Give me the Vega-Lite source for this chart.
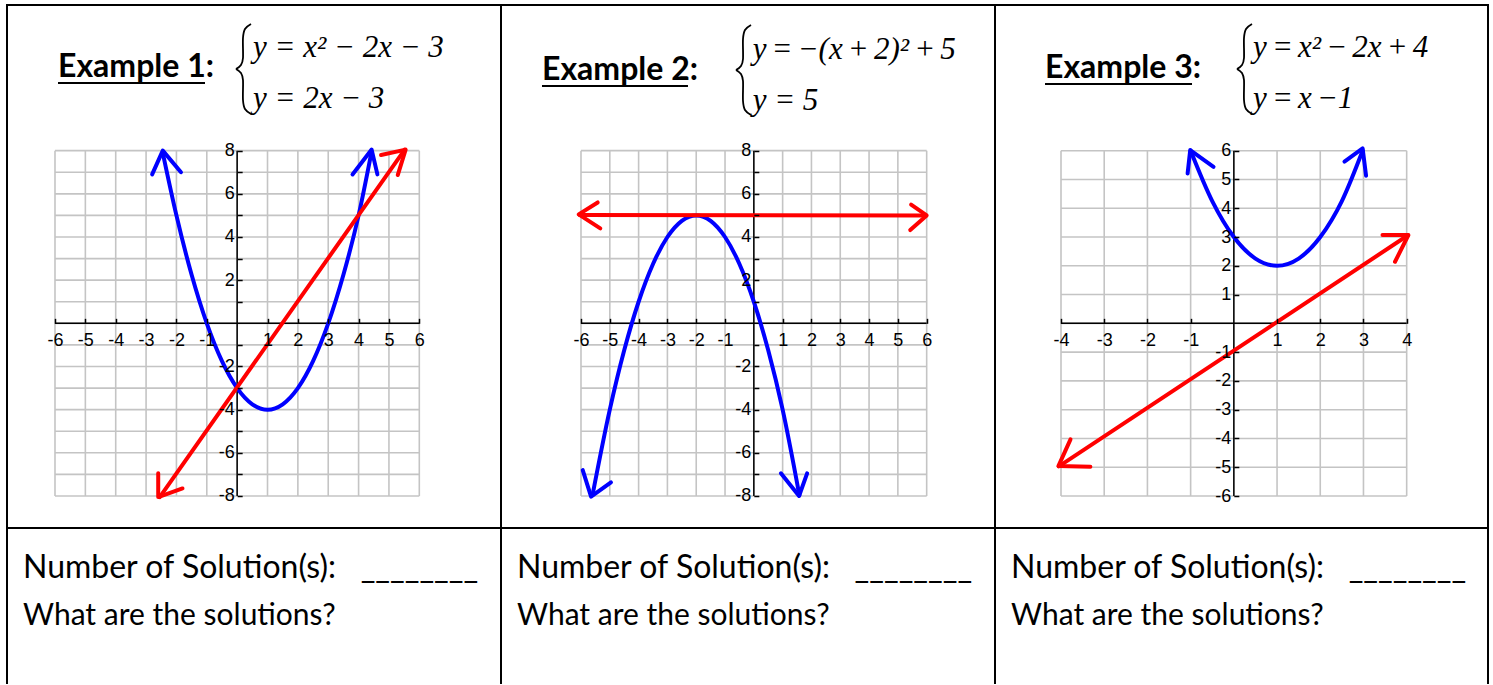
{
  "$schema": "https://vega.github.io/schema/vega-lite/v6.json",
  "usermeta": {"embedOptions": {"actions": false}},
  "background": "white",
  "padding": {"left": 5, "top": 4, "right": 0, "bottom": 0},
  "autosize": {"type": "pad"},
  "spacing": 0,
  "bounds": "flush",
  "config": {"axis": {"labelFont": "Liberation Sans", "labelFontSize": 18, "labelColor": "black", "tickColor": "black"}},
  "datasets": {
    "gx12": [{"v": -6},{"v": -5},{"v": -4},{"v": -3},{"v": -2},{"v": -1},{"v": 0},{"v": 1},{"v": 2},{"v": 3},{"v": 4},{"v": 5},{"v": 6}],
    "gy12": [{"v": -8},{"v": -7},{"v": -6},{"v": -5},{"v": -4},{"v": -3},{"v": -2},{"v": -1},{"v": 0},{"v": 1},{"v": 2},{"v": 3},{"v": 4},{"v": 5},{"v": 6},{"v": 7},{"v": 8}],
    "gx3": [{"v": -4},{"v": -3},{"v": -2},{"v": -1},{"v": 0},{"v": 1},{"v": 2},{"v": 3},{"v": 4}],
    "gy3": [{"v": -6},{"v": -5},{"v": -4},{"v": -3},{"v": -2},{"v": -1},{"v": 0},{"v": 1},{"v": 2},{"v": 3},{"v": 4},{"v": 5},{"v": 6}],
    "c1": [
      {"eq": "parabola", "x": -2.45, "y": 7.9},{"eq": "parabola", "x": -2, "y": 5},{"eq": "parabola", "x": -1.5, "y": 2.25},{"eq": "parabola", "x": -1, "y": 0},{"eq": "parabola", "x": -0.5, "y": -1.75},{"eq": "parabola", "x": 0, "y": -3},{"eq": "parabola", "x": 0.5, "y": -3.75},{"eq": "parabola", "x": 1, "y": -4},{"eq": "parabola", "x": 1.5, "y": -3.75},{"eq": "parabola", "x": 2, "y": -3},{"eq": "parabola", "x": 2.5, "y": -1.75},{"eq": "parabola", "x": 3, "y": 0},{"eq": "parabola", "x": 3.5, "y": 2.25},{"eq": "parabola", "x": 4, "y": 5},{"eq": "parabola", "x": 4.42, "y": 7.9},
      {"eq": "line", "x": -2.55, "y": -8.05},{"eq": "line", "x": 5.52, "y": 8.05}
    ],
    "h1": [
      {"eq": "parabola", "part": "L", "i": 0, "x": -2.8, "y": 6.9},{"eq": "parabola", "part": "L", "i": 1, "x": -2.45, "y": 8.0},{"eq": "parabola", "part": "L", "i": 2, "x": -1.85, "y": 7.0},
      {"eq": "parabola", "part": "R", "i": 0, "x": 3.8, "y": 6.9},{"eq": "parabola", "part": "R", "i": 1, "x": 4.43, "y": 8.05},{"eq": "parabola", "part": "R", "i": 2, "x": 4.62, "y": 6.9},
      {"eq": "line", "part": "L", "i": 0, "x": -2.6, "y": -6.95},{"eq": "line", "part": "L", "i": 1, "x": -2.6, "y": -8.05},{"eq": "line", "part": "L", "i": 2, "x": -1.8, "y": -7.65},
      {"eq": "line", "part": "R", "i": 0, "x": 4.74, "y": 7.8},{"eq": "line", "part": "R", "i": 1, "x": 5.55, "y": 8.05},{"eq": "line", "part": "R", "i": 2, "x": 5.29, "y": 6.87}
    ],
    "b1": [
      {"half": "u", "i": 0, "x": 0.456, "y": 13.869},{"half": "u", "i": 1, "x": 0.258, "y": 13.637},{"half": "u", "i": 2, "x": 0.192, "y": 13.22},{"half": "u", "i": 3, "x": 0.192, "y": 12.294},{"half": "u", "i": 4, "x": 0.126, "y": 11.969},{"half": "u", "i": 5, "x": -0.038, "y": 11.784},
      {"half": "l", "i": 0, "x": -0.038, "y": 11.784},{"half": "l", "i": 1, "x": 0.126, "y": 11.599},{"half": "l", "i": 2, "x": 0.192, "y": 11.274},{"half": "l", "i": 3, "x": 0.192, "y": 10.348},{"half": "l", "i": 4, "x": 0.258, "y": 9.931},{"half": "l", "i": 5, "x": 0.456, "y": 9.699}
    ],
    "c2": [
      {"eq": "parabola", "x": -5.6, "y": -7.96},{"eq": "parabola", "x": -5, "y": -4},{"eq": "parabola", "x": -4.5, "y": -1.25},{"eq": "parabola", "x": -4, "y": 1},{"eq": "parabola", "x": -3.5, "y": 2.75},{"eq": "parabola", "x": -3, "y": 4},{"eq": "parabola", "x": -2.5, "y": 4.75},{"eq": "parabola", "x": -2, "y": 5},{"eq": "parabola", "x": -1.5, "y": 4.75},{"eq": "parabola", "x": -1, "y": 4},{"eq": "parabola", "x": -0.5, "y": 2.75},{"eq": "parabola", "x": 0, "y": 1},{"eq": "parabola", "x": 0.5, "y": -1.25},{"eq": "parabola", "x": 1, "y": -4},{"eq": "parabola", "x": 1.58, "y": -7.96},
      {"eq": "line", "x": -6.05, "y": 5.02},{"eq": "line", "x": 5.98, "y": 5.0}
    ],
    "h2": [
      {"eq": "line", "part": "L", "i": 0, "x": -5.42, "y": 5.6},{"eq": "line", "part": "L", "i": 1, "x": -6.08, "y": 5.05},{"eq": "line", "part": "L", "i": 2, "x": -5.33, "y": 4.4},
      {"eq": "line", "part": "R", "i": 0, "x": 5.46, "y": 5.5},{"eq": "line", "part": "R", "i": 1, "x": 6.0, "y": 5.0},{"eq": "line", "part": "R", "i": 2, "x": 5.43, "y": 4.32},
      {"eq": "parabola", "part": "L", "i": 0, "x": -5.94, "y": -6.8},{"eq": "parabola", "part": "L", "i": 1, "x": -5.65, "y": -8.03},{"eq": "parabola", "part": "L", "i": 2, "x": -4.96, "y": -7.37},
      {"eq": "parabola", "part": "R", "i": 0, "x": 0.94, "y": -6.95},{"eq": "parabola", "part": "R", "i": 1, "x": 1.57, "y": -8.0},{"eq": "parabola", "part": "R", "i": 2, "x": 1.85, "y": -6.95}
    ],
    "b2": [
      {"half": "u", "i": 0, "x": -0.098, "y": 13.823},{"half": "u", "i": 1, "x": -0.307, "y": 13.591},{"half": "u", "i": 2, "x": -0.376, "y": 13.174},{"half": "u", "i": 3, "x": -0.376, "y": 12.247},{"half": "u", "i": 4, "x": -0.446, "y": 11.923},{"half": "u", "i": 5, "x": -0.619, "y": 11.738},
      {"half": "l", "i": 0, "x": -0.619, "y": 11.738},{"half": "l", "i": 1, "x": -0.446, "y": 11.552},{"half": "l", "i": 2, "x": -0.376, "y": 11.228},{"half": "l", "i": 3, "x": -0.376, "y": 10.301},{"half": "l", "i": 4, "x": -0.307, "y": 9.884},{"half": "l", "i": 5, "x": -0.098, "y": 9.653}
    ],
    "c3": [
      {"eq": "parabola", "x": -1.0, "y": 6.0},{"eq": "parabola", "x": -0.5, "y": 4.25},{"eq": "parabola", "x": 0, "y": 3},{"eq": "parabola", "x": 0.5, "y": 2.25},{"eq": "parabola", "x": 1, "y": 2},{"eq": "parabola", "x": 1.5, "y": 2.25},{"eq": "parabola", "x": 2, "y": 3},{"eq": "parabola", "x": 2.5, "y": 4.25},{"eq": "parabola", "x": 2.98, "y": 6.0},
      {"eq": "line", "x": -4.05, "y": -4.97},{"eq": "line", "x": 4.03, "y": 3.06}
    ],
    "h3": [
      {"eq": "parabola", "part": "L", "i": 0, "x": -1.07, "y": 5.21},{"eq": "parabola", "part": "L", "i": 1, "x": -1.01, "y": 6.02},{"eq": "parabola", "part": "L", "i": 2, "x": -0.47, "y": 5.44},
      {"eq": "parabola", "part": "R", "i": 0, "x": 2.56, "y": 5.62},{"eq": "parabola", "part": "R", "i": 1, "x": 2.98, "y": 6.08},{"eq": "parabola", "part": "R", "i": 2, "x": 3.06, "y": 5.13},
      {"eq": "line", "part": "L", "i": 0, "x": -3.78, "y": -4.03},{"eq": "line", "part": "L", "i": 1, "x": -4.06, "y": -4.96},{"eq": "line", "part": "L", "i": 2, "x": -3.32, "y": -4.98},
      {"eq": "line", "part": "R", "i": 0, "x": 3.44, "y": 3.07},{"eq": "line", "part": "R", "i": 1, "x": 4.04, "y": 3.07},{"eq": "line", "part": "R", "i": 2, "x": 3.73, "y": 2.14}
    ],
    "b3": [
      {"half": "u", "i": 0, "x": 0.42, "y": 10.402},{"half": "u", "i": 1, "x": 0.282, "y": 10.228},{"half": "u", "i": 2, "x": 0.235, "y": 9.915},{"half": "u", "i": 3, "x": 0.235, "y": 9.22},{"half": "u", "i": 4, "x": 0.189, "y": 8.977},{"half": "u", "i": 5, "x": 0.073, "y": 8.838},
      {"half": "l", "i": 0, "x": 0.073, "y": 8.838},{"half": "l", "i": 1, "x": 0.189, "y": 8.699},{"half": "l", "i": 2, "x": 0.235, "y": 8.456},{"half": "l", "i": 3, "x": 0.235, "y": 7.761},{"half": "l", "i": 4, "x": 0.282, "y": 7.448},{"half": "l", "i": 5, "x": 0.42, "y": 7.274}
    ]
  },
  "hconcat": [
    {
      "width": 494, "height": 679,
      "view": {"stroke": "black", "strokeWidth": 2, "strokeDash": [1173, 494, 679]},
      "layer": [
        {"data": {"name": "gx12"}, "mark": {"type": "rule", "color": "#c4c4c4", "strokeWidth": 1.6},
         "encoding": {
           "x": {"field": "v", "type": "quantitative", "scale": {"domain": [-7.581, 8.691], "nice": false, "zero": false},
                 "axis": {"title": null, "orient": "bottom", "offset": -360.67, "domain": false, "grid": false, "values": [-6,-5,-4,-3,-2,-1,1,2,3,4,5,6], "labelExpr": "toString(datum.value)", "tickSize": -5, "tickColor": "black", "tickWidth": 1.5, "labelFont": "Liberation Sans", "labelFontSize": 18, "labelColor": "black", "labelPadding": 13, "labelOverlap": false, "labelFlush": false, "labelBound": false, "labelAlign": "center", "labelBaseline": "top", "zindex": 1}},
           "y": {"datum": -8, "type": "quantitative", "scale": {"domain": [-16.711, 14.749], "nice": false, "zero": false},
                 "axis": {"title": null, "orient": "left", "offset": -230.16, "domain": false, "grid": false, "values": [-8,-7,-6,-5,-4,-3,-2,-1,1,2,3,4,5,6,7,8], "labelExpr": "datum.value % 2 == 0 ? toString(datum.value) : ''", "tickSize": -5, "tickColor": "black", "tickWidth": 1.5, "labelFont": "Liberation Sans", "labelFontSize": 18, "labelColor": "black", "labelPadding": 8, "labelOverlap": false, "labelFlush": false, "labelBound": false, "labelAlign": "right", "labelBaseline": "middle", "zindex": 1}},
           "y2": {"datum": 8}
         }},
        {"data": {"name": "gy12"}, "mark": {"type": "rule", "color": "#c4c4c4", "strokeWidth": 1.6},
         "encoding": {"y": {"field": "v", "type": "quantitative"}, "x": {"datum": -6}, "x2": {"datum": 6}}},
        {"data": {"values": [{}]}, "mark": {"type": "rule", "color": "black", "strokeWidth": 1.5},
         "encoding": {"y": {"datum": 0}, "x": {"datum": -6}, "x2": {"datum": 6}}},
        {"data": {"values": [{}]}, "mark": {"type": "rule", "color": "black", "strokeWidth": 1.5},
         "encoding": {"x": {"datum": 0}, "y": {"datum": -8}, "y2": {"datum": 8}}},
        {"data": {"name": "c1"}, "mark": {"type": "line", "interpolate": "monotone", "strokeWidth": 4, "strokeCap": "round", "strokeJoin": "round"},
         "encoding": {"x": {"field": "x", "type": "quantitative"}, "y": {"field": "y", "type": "quantitative"},
                      "color": {"field": "eq", "type": "nominal", "scale": {"domain": ["parabola", "line"], "range": ["#0000ff", "#ff0000"]}, "legend": null}}},
        {"data": {"name": "h1"}, "mark": {"type": "line", "strokeWidth": 4, "strokeCap": "round", "strokeJoin": "round"},
         "encoding": {"x": {"field": "x", "type": "quantitative"}, "y": {"field": "y", "type": "quantitative"},
                      "color": {"field": "eq", "type": "nominal", "legend": null}, "detail": [{"field": "eq"}, {"field": "part"}], "order": {"field": "i"}}},
        {"data": {"name": "b1"}, "mark": {"type": "line", "interpolate": "cardinal", "color": "black", "strokeWidth": 1.8},
         "encoding": {"x": {"field": "x", "type": "quantitative"}, "y": {"field": "y", "type": "quantitative"}, "detail": {"field": "half"}, "order": {"field": "i"}}},
        {"data": {"values": [{"t": "Example 1:"}]}, "mark": {"type": "text", "align": "left", "baseline": "alphabetic", "font": "Lato", "fontWeight": "bold", "fontSize": 32, "color": "black"},
         "encoding": {"text": {"field": "t", "type": "nominal"}, "x": {"datum": -5.901}, "y": {"datum": 11.413}}},
        {"data": {"values": [{}]}, "mark": {"type": "rule", "color": "black", "strokeWidth": 2},
         "encoding": {"y": {"datum": 11.135}, "x": {"datum": -5.901}, "x2": {"datum": -1.059}}},
        {"data": {"values": [{"t": "y = x² − 2x − 3"}]}, "mark": {"type": "text", "align": "left", "baseline": "alphabetic", "font": "Liberation Serif", "fontStyle": "italic", "fontSize": 31, "color": "black"},
         "encoding": {"text": {"field": "t", "type": "nominal"}, "x": {"datum": 0.522}, "y": {"datum": 12.34}}},
        {"data": {"values": [{"t": "y = 2x − 3"}]}, "mark": {"type": "text", "align": "left", "baseline": "alphabetic", "font": "Liberation Serif", "fontStyle": "italic", "fontSize": 31, "color": "black"},
         "encoding": {"text": {"field": "t", "type": "nominal"}, "x": {"datum": 0.522}, "y": {"datum": 9.977}}},
        {"data": {"values": [{}]}, "mark": {"type": "rule", "color": "black", "strokeWidth": 2},
         "encoding": {"y": {"datum": -9.483}, "x": {"datum": -7.581}, "x2": {"datum": 8.691}}},
        {"data": {"values": [{"t": "Number of Solution(s):\u00a0\u00a0\u00a0________"}]}, "mark": {"type": "text", "align": "left", "baseline": "alphabetic", "font": "Lato", "fontSize": 32, "color": "black"},
         "encoding": {"text": {"field": "t", "type": "nominal"}, "x": {"datum": -7.054}, "y": {"datum": -11.8}}},
        {"data": {"values": [{"t": "What are the solutions?"}]}, "mark": {"type": "text", "align": "left", "baseline": "alphabetic", "font": "Lato", "fontSize": 30, "color": "black"},
         "encoding": {"text": {"field": "t", "type": "nominal"}, "x": {"datum": -7.054}, "y": {"datum": -13.977}}}
      ]
    },
    {
      "width": 494, "height": 679,
      "view": {"stroke": "black", "strokeWidth": 2, "strokeDash": [1173, 494, 679]},
      "layer": [
        {"data": {"name": "gx12"}, "mark": {"type": "rule", "color": "#c4c4c4", "strokeWidth": 1.6},
         "encoding": {
           "x": {"field": "v", "type": "quantitative", "scale": {"domain": [-8.777, 8.372], "nice": false, "zero": false},
                 "axis": {"title": null, "orient": "bottom", "offset": -360.67, "domain": false, "grid": false, "values": [-6,-5,-4,-3,-2,-1,1,2,3,4,5,6], "labelExpr": "toString(datum.value)", "tickSize": -5, "tickColor": "black", "tickWidth": 1.5, "labelFont": "Liberation Sans", "labelFontSize": 18, "labelColor": "black", "labelPadding": 13, "labelOverlap": false, "labelFlush": false, "labelBound": false, "labelAlign": "center", "labelBaseline": "top", "zindex": 1}},
           "y": {"datum": -8, "type": "quantitative", "scale": {"domain": [-16.711, 14.749], "nice": false, "zero": false},
                 "axis": {"title": null, "orient": "left", "offset": -252.84, "domain": false, "grid": false, "values": [-8,-7,-6,-5,-4,-3,-2,-1,1,2,3,4,5,6,7,8], "labelExpr": "datum.value % 2 == 0 ? toString(datum.value) : ''", "tickSize": -5, "tickColor": "black", "tickWidth": 1.5, "labelFont": "Liberation Sans", "labelFontSize": 18, "labelColor": "black", "labelPadding": 8, "labelOverlap": false, "labelFlush": false, "labelBound": false, "labelAlign": "right", "labelBaseline": "middle", "zindex": 1}},
           "y2": {"datum": 8}
         }},
        {"data": {"name": "gy12"}, "mark": {"type": "rule", "color": "#c4c4c4", "strokeWidth": 1.6},
         "encoding": {"y": {"field": "v", "type": "quantitative"}, "x": {"datum": -6}, "x2": {"datum": 6}}},
        {"data": {"values": [{}]}, "mark": {"type": "rule", "color": "black", "strokeWidth": 1.5},
         "encoding": {"y": {"datum": 0}, "x": {"datum": -6}, "x2": {"datum": 6}}},
        {"data": {"values": [{}]}, "mark": {"type": "rule", "color": "black", "strokeWidth": 1.5},
         "encoding": {"x": {"datum": 0}, "y": {"datum": -8}, "y2": {"datum": 8}}},
        {"data": {"name": "c2"}, "mark": {"type": "line", "interpolate": "monotone", "strokeWidth": 4, "strokeCap": "round", "strokeJoin": "round"},
         "encoding": {"x": {"field": "x", "type": "quantitative"}, "y": {"field": "y", "type": "quantitative"},
                      "color": {"field": "eq", "type": "nominal", "scale": {"domain": ["parabola", "line"], "range": ["#0000ff", "#ff0000"]}, "legend": null}}},
        {"data": {"name": "h2"}, "mark": {"type": "line", "strokeWidth": 4, "strokeCap": "round", "strokeJoin": "round"},
         "encoding": {"x": {"field": "x", "type": "quantitative"}, "y": {"field": "y", "type": "quantitative"},
                      "color": {"field": "eq", "type": "nominal", "legend": null}, "detail": [{"field": "eq"}, {"field": "part"}], "order": {"field": "i"}}},
        {"data": {"name": "b2"}, "mark": {"type": "line", "interpolate": "cardinal", "color": "black", "strokeWidth": 1.8},
         "encoding": {"x": {"field": "x", "type": "quantitative"}, "y": {"field": "y", "type": "quantitative"}, "detail": {"field": "half"}, "order": {"field": "i"}}},
        {"data": {"values": [{"t": "Example 2:"}]}, "mark": {"type": "text", "align": "left", "baseline": "alphabetic", "font": "Lato", "fontWeight": "bold", "fontSize": 32, "color": "black"},
         "encoding": {"text": {"field": "t", "type": "nominal"}, "x": {"datum": -7.354}, "y": {"datum": 11.274}}},
        {"data": {"values": [{}]}, "mark": {"type": "rule", "color": "black", "strokeWidth": 2},
         "encoding": {"y": {"datum": 10.996}, "x": {"datum": -7.354}, "x2": {"datum": -2.286}}},
        {"data": {"values": [{"t": "y\u2006=\u2006−(x\u2006+\u20062)²\u2006+\u20065"}]}, "mark": {"type": "text", "align": "left", "baseline": "alphabetic", "font": "Liberation Serif", "fontStyle": "italic", "fontSize": 31, "color": "black"},
         "encoding": {"text": {"field": "t", "type": "nominal"}, "x": {"datum": -0.04}, "y": {"datum": 12.247}}},
        {"data": {"values": [{"t": "y = 5"}]}, "mark": {"type": "text", "align": "left", "baseline": "alphabetic", "font": "Liberation Serif", "fontStyle": "italic", "fontSize": 31, "color": "black"},
         "encoding": {"text": {"field": "t", "type": "nominal"}, "x": {"datum": -0.04}, "y": {"datum": 9.884}}},
        {"data": {"values": [{}]}, "mark": {"type": "rule", "color": "black", "strokeWidth": 2},
         "encoding": {"y": {"datum": -9.483}, "x": {"datum": -8.777}, "x2": {"datum": 8.372}}},
        {"data": {"values": [{"t": "Number of Solution(s):\u00a0\u00a0\u00a0________"}]}, "mark": {"type": "text", "align": "left", "baseline": "alphabetic", "font": "Lato", "fontSize": 32, "color": "black"},
         "encoding": {"text": {"field": "t", "type": "nominal"}, "x": {"datum": -8.222}, "y": {"datum": -11.8}}},
        {"data": {"values": [{"t": "What are the solutions?"}]}, "mark": {"type": "text", "align": "left", "baseline": "alphabetic", "font": "Lato", "fontSize": 30, "color": "black"},
         "encoding": {"text": {"field": "t", "type": "nominal"}, "x": {"datum": -8.222}, "y": {"datum": -13.977}}}
      ]
    },
    {
      "width": 493, "height": 679,
      "view": {"stroke": "black", "strokeWidth": 2, "strokeDash": [1172, 493, 679]},
      "layer": [
        {"data": {"name": "gx3"}, "mark": {"type": "rule", "color": "#c4c4c4", "strokeWidth": 1.6},
         "encoding": {
           "x": {"field": "v", "type": "quantitative", "scale": {"domain": [-5.5275, 5.882], "nice": false, "zero": false},
                 "axis": {"title": null, "orient": "bottom", "offset": -360.67, "domain": false, "grid": false, "values": [-4,-3,-2,-1,1,2,3,4], "labelExpr": "toString(datum.value)", "tickSize": -5, "tickColor": "black", "tickWidth": 1.5, "labelFont": "Liberation Sans", "labelFontSize": 18, "labelColor": "black", "labelPadding": 13, "labelOverlap": false, "labelFlush": false, "labelBound": false, "labelAlign": "center", "labelBaseline": "top", "zindex": 1}},
           "y": {"datum": -6, "type": "quantitative", "scale": {"domain": [-12.532, 11.062], "nice": false, "zero": false},
                 "axis": {"title": null, "orient": "left", "offset": -238.83, "domain": false, "grid": false, "values": [-6,-5,-4,-3,-2,-1,1,2,3,4,5,6], "labelExpr": "toString(datum.value)", "tickSize": -5, "tickColor": "black", "tickWidth": 1.5, "labelFont": "Liberation Sans", "labelFontSize": 18, "labelColor": "black", "labelPadding": 8, "labelOverlap": false, "labelFlush": false, "labelBound": false, "labelAlign": "right", "labelBaseline": "middle", "zindex": 1}},
           "y2": {"datum": 6}
         }},
        {"data": {"name": "gy3"}, "mark": {"type": "rule", "color": "#c4c4c4", "strokeWidth": 1.6},
         "encoding": {"y": {"field": "v", "type": "quantitative"}, "x": {"datum": -4}, "x2": {"datum": 4}}},
        {"data": {"values": [{}]}, "mark": {"type": "rule", "color": "black", "strokeWidth": 1.5},
         "encoding": {"y": {"datum": 0}, "x": {"datum": -4}, "x2": {"datum": 4}}},
        {"data": {"values": [{}]}, "mark": {"type": "rule", "color": "black", "strokeWidth": 1.5},
         "encoding": {"x": {"datum": 0}, "y": {"datum": -6}, "y2": {"datum": 6}}},
        {"data": {"name": "c3"}, "mark": {"type": "line", "interpolate": "monotone", "strokeWidth": 4, "strokeCap": "round", "strokeJoin": "round"},
         "encoding": {"x": {"field": "x", "type": "quantitative"}, "y": {"field": "y", "type": "quantitative"},
                      "color": {"field": "eq", "type": "nominal", "scale": {"domain": ["parabola", "line"], "range": ["#0000ff", "#ff0000"]}, "legend": null}}},
        {"data": {"name": "h3"}, "mark": {"type": "line", "strokeWidth": 4, "strokeCap": "round", "strokeJoin": "round"},
         "encoding": {"x": {"field": "x", "type": "quantitative"}, "y": {"field": "y", "type": "quantitative"},
                      "color": {"field": "eq", "type": "nominal", "legend": null}, "detail": [{"field": "eq"}, {"field": "part"}], "order": {"field": "i"}}},
        {"data": {"name": "b3"}, "mark": {"type": "line", "interpolate": "cardinal", "color": "black", "strokeWidth": 1.8},
         "encoding": {"x": {"field": "x", "type": "quantitative"}, "y": {"field": "y", "type": "quantitative"}, "detail": {"field": "half"}, "order": {"field": "i"}}},
        {"data": {"values": [{"t": "Example 3:"}]}, "mark": {"type": "text", "align": "left", "baseline": "alphabetic", "font": "Lato", "fontWeight": "bold", "fontSize": 32, "color": "black"},
         "encoding": {"text": {"field": "t", "type": "nominal"}, "x": {"datum": -4.37}, "y": {"datum": 8.525}}},
        {"data": {"values": [{}]}, "mark": {"type": "rule", "color": "black", "strokeWidth": 2},
         "encoding": {"y": {"datum": 8.317}, "x": {"datum": -4.37}, "x2": {"datum": -0.968}}},
        {"data": {"values": [{"t": "y\u2006=\u2006x²\u2006−\u20062x\u2006+\u20064"}]}, "mark": {"type": "text", "align": "left", "baseline": "alphabetic", "font": "Liberation Serif", "fontStyle": "italic", "fontSize": 31, "color": "black"},
         "encoding": {"text": {"field": "t", "type": "nominal"}, "x": {"datum": 0.444}, "y": {"datum": 9.255}}},
        {"data": {"values": [{"t": "y\u2006=\u2006x\u2006−1"}]}, "mark": {"type": "text", "align": "left", "baseline": "alphabetic", "font": "Liberation Serif", "fontStyle": "italic", "fontSize": 31, "color": "black"},
         "encoding": {"text": {"field": "t", "type": "nominal"}, "x": {"datum": 0.444}, "y": {"datum": 7.483}}},
        {"data": {"values": [{}]}, "mark": {"type": "rule", "color": "black", "strokeWidth": 2},
         "encoding": {"y": {"datum": -7.112}, "x": {"datum": -5.5275}, "x2": {"datum": 5.882}}},
        {"data": {"values": [{"t": "Number of Solution(s):\u00a0\u00a0\u00a0________"}]}, "mark": {"type": "text", "align": "left", "baseline": "alphabetic", "font": "Lato", "fontSize": 32, "color": "black"},
         "encoding": {"text": {"field": "t", "type": "nominal"}, "x": {"datum": -5.157}, "y": {"datum": -8.849}}},
        {"data": {"values": [{"t": "What are the solutions?"}]}, "mark": {"type": "text", "align": "left", "baseline": "alphabetic", "font": "Lato", "fontSize": 30, "color": "black"},
         "encoding": {"text": {"field": "t", "type": "nominal"}, "x": {"datum": -5.157}, "y": {"datum": -10.482}}}
      ]
    }
  ]
}
